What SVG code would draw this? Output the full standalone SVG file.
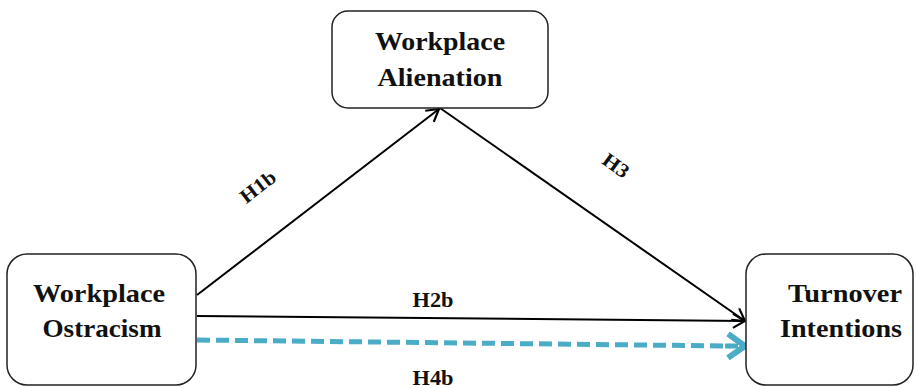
<svg xmlns="http://www.w3.org/2000/svg" width="916" height="388" viewBox="0 0 916 388">
<defs>
<style>
.box{fill:#fff;stroke:#222;stroke-width:1.5}
.t{font-family:"Liberation Serif","Times New Roman",serif;font-weight:bold;font-size:25.5px;fill:#111;text-anchor:middle}
.lbl{font-family:"Liberation Serif","Times New Roman",serif;font-weight:bold;font-size:20px;fill:#111;text-anchor:middle}
.ln{stroke:#000;stroke-width:2;fill:none}
.dash{stroke:#4BACC6;stroke-width:5;fill:none;stroke-dasharray:13 6}
</style>
<marker id="ab" markerUnits="userSpaceOnUse" markerWidth="16" markerHeight="16" refX="14" refY="8" orient="auto" viewBox="0 0 16 16">
<path d="M2,1 L14,8 L2,15" fill="none" stroke="#000" stroke-width="2.2"/>
</marker>
<marker id="abl" markerUnits="userSpaceOnUse" markerWidth="28" markerHeight="32" refX="23" refY="16" orient="auto" viewBox="0 0 28 32">
<path d="M6,4 L23,16 L6,28" fill="none" stroke="#4BACC6" stroke-width="6"/>
</marker>
</defs>
<g id="connectors">
<line class="ln" x1="197" y1="295" x2="439" y2="109" marker-end="url(#ab)"/>
<line class="ln" x1="440" y1="108" x2="745" y2="321" marker-end="url(#ab)"/>
<line class="ln" x1="197" y1="316" x2="745" y2="321" marker-end="url(#ab)"/>
<line class="dash" x1="197" y1="340" x2="730" y2="346"/>
<line class="dash" x1="725" y1="345.9" x2="745" y2="346" stroke-dasharray="none" marker-end="url(#abl)"/>
<text class="lbl" transform="translate(262,192) rotate(-38)" textLength="40" lengthAdjust="spacingAndGlyphs">H1b</text>
<text class="lbl" transform="translate(612,171) rotate(36)" textLength="28" lengthAdjust="spacingAndGlyphs">H3</text>
<text class="lbl" x="433" y="307" textLength="41" lengthAdjust="spacingAndGlyphs">H2b</text>
<text class="lbl" x="433" y="385" textLength="41" lengthAdjust="spacingAndGlyphs">H4b</text>
</g>
<g id="alienation">
<rect class="box" x="332" y="11" width="216" height="97" rx="16"/>
<text class="t" x="440" y="50" textLength="130" lengthAdjust="spacingAndGlyphs">Workplace</text>
<text class="t" x="440" y="86" textLength="125" lengthAdjust="spacingAndGlyphs">Alienation</text>
</g>
<g id="ostracism">
<rect class="box" x="7" y="254" width="189" height="131" rx="20"/>
<text class="t" x="99" y="302" textLength="132" lengthAdjust="spacingAndGlyphs">Workplace</text>
<text class="t" x="102" y="337" textLength="119" lengthAdjust="spacingAndGlyphs">Ostracism</text>
</g>
<g id="turnover">
<rect class="box" x="746" y="254" width="167" height="131" rx="20"/>
<text class="t" x="845" y="302" textLength="114" lengthAdjust="spacingAndGlyphs">Turnover</text>
<text class="t" x="841" y="337" textLength="122" lengthAdjust="spacingAndGlyphs">Intentions</text>
</g>
</svg>
